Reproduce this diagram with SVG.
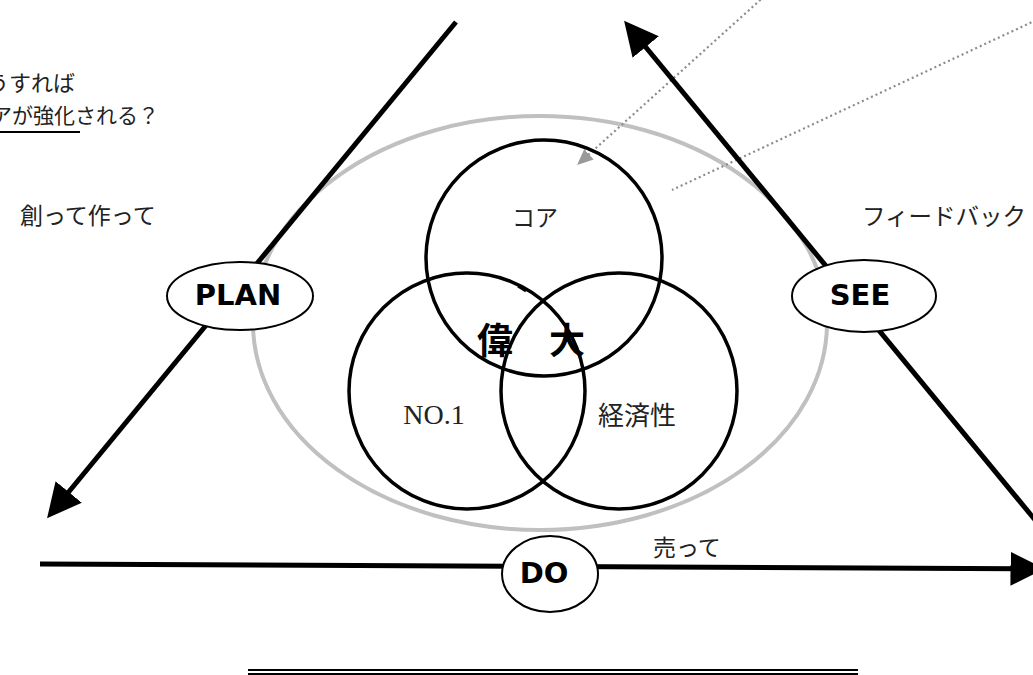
<svg xmlns="http://www.w3.org/2000/svg" width="1033" height="675" viewBox="0 0 1033 675">
<style>
.jp{font-family:"Noto Sans CJK JP",sans-serif;fill:#222}
.lbl{font-family:"DejaVu Sans",sans-serif;font-weight:bold;font-size:29px;fill:#000;text-anchor:middle}
.ser{font-family:"Liberation Serif","Noto Sans CJK JP",serif;fill:#222}
.big{stroke:#000;stroke-width:5;fill:none}
.circ{fill:none;stroke:#000;stroke-width:3.5}
.node{fill:#fff;stroke:#000;stroke-width:2}
.dot{stroke:#8c8c8c;stroke-width:2.2;stroke-dasharray:2 3;fill:none}
</style>
<defs>
<marker id="ah" markerUnits="userSpaceOnUse" markerWidth="34" markerHeight="34" viewBox="0 0 32 32" refX="8" refY="16" orient="auto">
<path d="M0,0 L32,16 L0,32 z" fill="#000"/>
</marker>
<marker id="gh" markerUnits="userSpaceOnUse" markerWidth="16" markerHeight="14" viewBox="0 0 16 14" refX="4" refY="7" orient="auto">
<path d="M0,0 L16,7 L0,14 z" fill="#999"/>
</marker>
</defs>
<rect width="1033" height="675" fill="#fff"/>
<g id="outer-ellipse">
<ellipse cx="540" cy="323" rx="287" ry="207" fill="none" stroke="#c0c0c0" stroke-width="4"/>
</g>
<g id="connectors">
<line class="dot" x1="768" y1="-7" x2="586" y2="157" marker-end="url(#gh)"/>
<line class="dot" x1="1045" y1="16" x2="672" y2="190"/>
<line class="big" x1="456" y1="22" x2="63.3" y2="498.5" marker-end="url(#ah)"/>
<line class="big" x1="1045" y1="532" x2="640.3" y2="40.5" marker-end="url(#ah)"/>
<line class="big" stroke-width="6" x1="40" y1="564" x2="1019" y2="568.8" marker-end="url(#ah)"/>
</g>
<g id="circle-core">
<circle class="circ" cx="544" cy="258" r="118"/>
<text class="ser" x="535" y="226" font-size="23" text-anchor="middle">コア</text>
</g>
<g id="circle-no1">
<circle class="circ" cx="467" cy="391" r="118"/>
<line x1="518" y1="286" x2="526" y2="291" stroke="#000" stroke-width="3"/>
<text class="ser" x="434" y="424" font-size="28" text-anchor="middle">NO.1</text>
</g>
<g id="circle-econ">
<circle class="circ" cx="619" cy="391" r="118"/>
<text class="ser" x="637" y="425" font-size="26" text-anchor="middle">経済性</text>
</g>
<g id="center-label">
<text x="477" y="354" font-family="Noto Sans CJK JP,sans-serif" font-weight="bold" font-size="36" fill="#000">偉　大</text>
</g>
<g id="node-plan">
<ellipse class="node" cx="240" cy="296" rx="73" ry="34"/>
<text class="lbl" x="238" y="305">PLAN</text>
</g>
<g id="node-see">
<ellipse class="node" cx="864" cy="296" rx="72" ry="36"/>
<text class="lbl" x="860" y="305">SEE</text>
</g>
<g id="node-do">
<ellipse class="node" cx="550" cy="574" rx="48" ry="38"/>
<text class="lbl" x="544" y="583">DO</text>
</g>
<g id="labels">
<text class="jp" x="-35" y="91" font-size="22">どうすれば</text>
<text class="jp" x="-30" y="123" font-size="21">コアが強化される？</text>
<line x1="0" y1="132" x2="80" y2="132" stroke="#000" stroke-width="2"/>
<text class="jp" x="20" y="224" font-size="23">創って作って</text>
<text class="jp" x="862" y="225" font-size="23.5">フィードバック</text>
<text class="jp" x="653" y="556" font-size="23">売って</text>
</g>
<g id="bottom-rule">
<line x1="248" y1="670" x2="858" y2="670" stroke="#000" stroke-width="2"/>
<line x1="248" y1="674" x2="858" y2="674" stroke="#000" stroke-width="2"/>
</g>
</svg>
